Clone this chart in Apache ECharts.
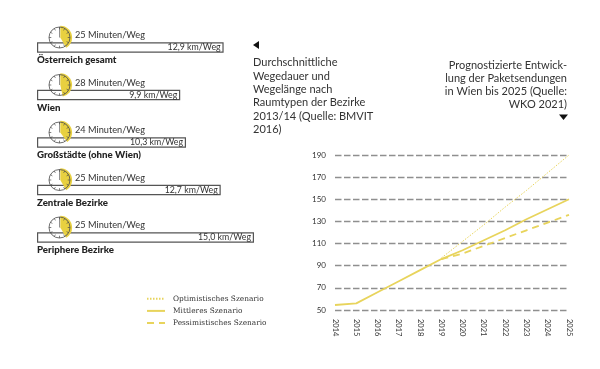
<!DOCTYPE html>
<html><head><meta charset="utf-8">
<script src="https://cdn.jsdelivr.net/npm/echarts@6/dist/echarts.min.js"></script>
<style>html,body{margin:0;padding:0;background:#fff}#c{width:600px;height:369px}</style>
</head><body><div id="c"></div>
<script>
const regions = ['Österreich gesamt','Wien','Großstädte (ohne Wien)','Zentrale Bezirke','Periphere Bezirke'];
const km = [12.9, 9.9, 10.3, 12.7, 15.0];
const minutes = [25, 28, 24, 25, 25];
const years = ['2014','2015','2016','2017','2018','2019','2020','2021','2022','2023','2024','2025'];
const optimistic  = [null,null,null,null,null,97,112,127,143,158,174,190];
const middle      = [54.5,56,66,76,86,96,104,113,122,132,141,150];
const pessimistic = [null,null,null,null,null,96,101,108,115,122,129,136];
const yTicks = [50,70,90,110,130,150,170,190];
const leftTitle = 'Durchschnittliche\nWegedauer und\nWegelänge nach\nRaumtypen der Bezirke\n2013/14 (Quelle: BMVIT\n2016)';
const rightTitle = 'Prognostizierte Entwick-\nlung der Paketsendungen\nin Wien bis 2025 (Quelle:\nWKO 2021)';

const YEL = '#e8d040', LINE = '#e8d45c', DARK = '#4a4a4a', FONT = 'Lato, "Open Sans", sans-serif';
const fmt = v => v.toFixed(1).replace('.', ',') + ' km/Weg';

function clockItem(params, api) {
  const i = params.dataIndex;
  const base = api.coord([0, i]);
  const cx = base[0] + 22.5, cy = base[1] - 10;
  const m = api.value(1);
  const start = -Math.PI / 2, end = start + m / 60 * Math.PI * 2;
  const kids = [
    {type:'sector', shape:{cx:cx+0.8, cy, r:11.8, r0:0, startAngle:start, endAngle:end}, style:{fill:YEL}},
    {type:'circle', shape:{cx, cy, r:10.5}, style:{fill:'none', stroke:DARK, lineWidth:0.8}},
    {type:'line', shape:{x1:cx, y1:cy, x2:cx, y2:cy-10.5}, style:{stroke:DARK, lineWidth:0.6}}
  ];
  for (let t = 0; t < 12; t++) {
    const a = t / 12 * Math.PI * 2;
    kids.push({type:'line', shape:{x1:cx+Math.sin(a)*8.2, y1:cy-Math.cos(a)*8.2, x2:cx+Math.sin(a)*10.5, y2:cy-Math.cos(a)*10.5},
      style:{stroke:DARK, lineWidth:0.7}});
  }
  kids.push({type:'text', style:{x:cx+15.5, y:cy-2, text:m+' Minuten/Weg', fill:'#333', fontSize:9.2, fontWeight:400, fontFamily:FONT, verticalAlign:'middle'}});
  kids.push({type:'text', style:{x:base[0], y:base[1]+12.5, text:regions[i], fill:'#222', fontSize:9.7, fontWeight:900, fontFamily:FONT, verticalAlign:'middle'}});
  return {type:'group', children:kids};
}

const chart = echarts.init(document.getElementById('c'), null, {renderer:'canvas'});
chart.setOption({
  animation:false,
  backgroundColor:'#fff',
  textStyle:{fontFamily:FONT},
  title:[
    {text:leftTitle, left:253, top:56, textStyle:{fontSize:11, fontWeight:400, color:'#333', lineHeight:13.4, fontFamily:FONT}, padding:0},
    {text:rightTitle, left:567, top:59, textAlign:'right', textStyle:{fontSize:11, fontWeight:400, color:'#333', lineHeight:13, fontFamily:FONT, align:'right'}, padding:0}
  ],
  graphic:[
    {type:'polygon', shape:{points:[[253,45],[259,41],[259,49]]}, style:{fill:'#111'}},
    {type:'polygon', shape:{points:[[559,114.5],[568,114.5],[563.5,120]]}, style:{fill:'#111'}}
  ],
  legend:{
    data:['Optimistisches Szenario','Mittleres Szenario','Pessimistisches Szenario'],
    orient:'vertical', left:146, top:294, itemWidth:18, itemHeight:12, itemGap:2.5, padding:0,
    itemStyle:{opacity:0},
    textStyle:{fontFamily:'"DejaVu Serif", serif', fontSize:7.4, color:'#333', padding:[0,0,0,3]}
  },
  grid:[
    {left:335, right:31, top:155, bottom:59},
    {left:37, top:23.75, width:217, height:237.5}
  ],
  xAxis:[
    {type:'category', data:years, boundaryGap:false, gridIndex:0,
     axisLine:{show:false}, axisTick:{show:false},
     axisLabel:{rotate:-90, interval:0, fontSize:7.5, color:'#333', margin:9, fontFamily:FONT}},
    {type:'value', gridIndex:1, min:0, max:15, show:false}
  ],
  yAxis:[
    {type:'value', gridIndex:0, min:50, max:190,
     axisLine:{show:false},
     axisTick:{show:false, customValues:yTicks},
     axisLabel:{customValues:yTicks, fontSize:8, color:'#333', margin:9, fontFamily:FONT},
     splitLine:{show:true, lineStyle:{color:'#8f8f8f', type:[6.5,2.5], width:1.4}}},
    {type:'category', gridIndex:1, data:regions, inverse:true, show:false}
  ],
  series:[
    {type:'bar', name:'km', xAxisIndex:1, yAxisIndex:1, data:km, barWidth:10.5, silent:true,
     itemStyle:{color:'#fff', borderColor:'#555', borderWidth:1.2},
     label:{show:true, position:'insideRight', distance:3, formatter:p=>fmt(p.value), fontSize:8.8, color:'#333', fontFamily:FONT}},
    {type:'custom', name:'clock', xAxisIndex:1, yAxisIndex:1, data:minutes.map((m,i)=>[i,m]),
     encode:{y:0}, renderItem:clockItem, silent:true, z:5, clip:false},
    {type:'line', name:'Optimistisches Szenario', data:optimistic, symbol:'none',
     lineStyle:{color:LINE, width:1, type:[1.5,1.5]}, itemStyle:{color:LINE}, z:3},
    {type:'line', name:'Pessimistisches Szenario', data:pessimistic, symbol:'none',
     lineStyle:{color:LINE, width:1.8, type:[7,5]}, itemStyle:{color:LINE}, z:3},
    {type:'line', name:'Mittleres Szenario', data:middle, symbol:'none',
     lineStyle:{color:LINE, width:1.8}, itemStyle:{color:LINE}, z:4}
  ]
});
</script></body></html>
